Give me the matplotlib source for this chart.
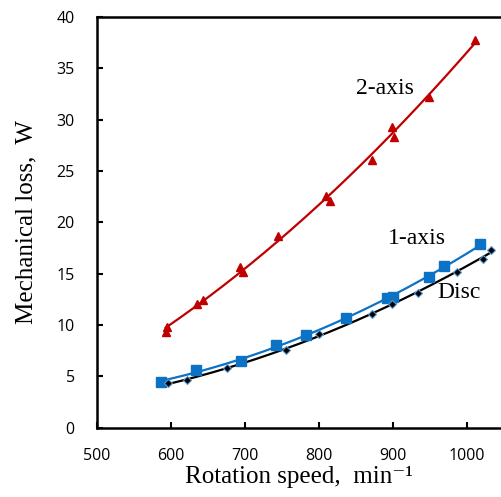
import numpy as np
import matplotlib
matplotlib.use("Agg")
import matplotlib.pyplot as plt

axis2_speed = [593, 595, 635, 643, 693, 697, 745, 810, 815, 871, 898, 902, 948, 1011]
axis2_loss = [9.3, 9.8, 12.0, 12.4, 15.6, 15.2, 18.7, 22.6, 22.1, 26.1, 29.3, 28.3, 32.2, 37.8]

axis1_speed = [587, 634, 694, 742, 782, 836, 892, 900, 949, 969, 1018]
axis1_loss = [4.4, 5.6, 6.5, 8.0, 9.0, 10.7, 12.6, 12.7, 14.7, 15.7, 17.85]

disc_speed = [596, 622, 675, 756, 800, 871, 898, 934, 986, 1021, 1033]
disc_loss = [4.3, 4.6, 5.8, 7.6, 9.1, 11.1, 12.0, 13.1, 15.2, 16.4, 17.3]

x_ticks = [500, 600, 700, 800, 900, 1000]
y_ticks = [0, 5, 10, 15, 20, 25, 30, 35, 40]

RED = "#c00000"
BLUE = "#0b72c6"
BLACK = "#000000"
SERIF = ["Liberation Serif", "DejaVu Serif"]


def trend(ax, xs, ys, color, lw=1.6):
    # 2nd order trend line, as a spreadsheet would draw it
    coef = np.polyfit(xs, ys, 2)
    xx = np.linspace(min(xs), max(xs), 200)
    ax.plot(xx, np.polyval(coef, xx), color=color, linewidth=lw, zorder=2)


fig = plt.figure(figsize=(5.01, 4.97), dpi=100)
ax = fig.add_axes([97 / 501, 69.5 / 497, 404 / 501, 410.5 / 497])

ax.plot(axis2_speed, axis2_loss, linestyle="none", marker="^", markersize=6,
        color=RED, zorder=3)
trend(ax, axis2_speed, axis2_loss, RED)

ax.plot(axis1_speed, axis1_loss, linestyle="none", marker="s", markersize=6.5,
        color=BLUE, zorder=3)
trend(ax, axis1_speed, axis1_loss, BLUE)

ax.plot(disc_speed, disc_loss, linestyle="none", marker="D", markersize=4,
        markerfacecolor=BLACK, markeredgecolor="#5b9bd5", markeredgewidth=0.8, zorder=4)
trend(ax, disc_speed, disc_loss, BLACK)


def px_text(px, py, s):
    # place text at a pixel location of the 501x497 canvas
    fig.text(px / 501, 1 - py / 497, s, fontfamily=SERIF, fontsize=17,
             ha="center", va="center")


px_text(385, 89, "2-axis")
px_text(417, 238, "1-axis")
px_text(459, 292, "Disc")

ax.set_xlim(500, 500 + 404 / 0.74)
ax.set_ylim(0, 40)
ax.set_xticks(x_ticks)
ax.set_yticks(y_ticks)
ax.tick_params(direction="in", length=4, width=1.5, labelsize=11.5)
ax.tick_params(axis="x", pad=15)
ax.tick_params(axis="y", pad=16)
for lab in ax.get_xticklabels() + ax.get_yticklabels():
    lab.set_fontfamily("Open Sans")

ax.spines["right"].set_visible(False)
for s in ["left", "bottom", "top"]:
    ax.spines[s].set_linewidth(1.8)

ax.set_xlabel("Rotation speed,  min\u207b\u00b9", fontfamily=SERIF,
              fontsize=18, labelpad=1)
ax.set_ylabel("Mechanical loss,  W", fontfamily=SERIF, fontsize=18, labelpad=14)

fig.savefig("out.png", dpi=100)
